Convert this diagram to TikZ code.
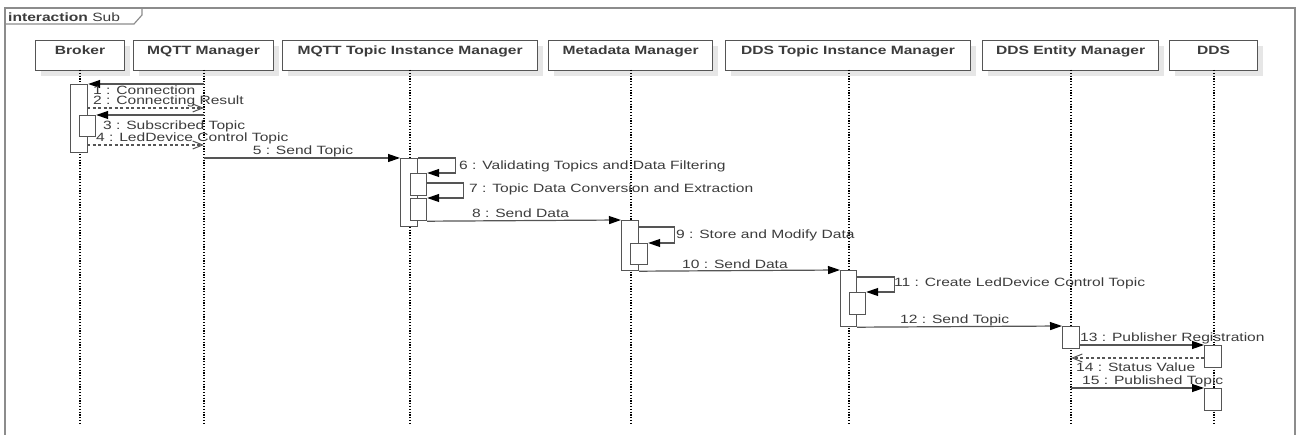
\documentclass[tikz,border=0pt]{standalone}
\usepackage{fontspec}
\setmainfont{Liberation Sans}[FakeStretch=1.3]
\usetikzlibrary{arrows.meta,shadows}
\definecolor{framegray}{HTML}{8C8C8C}
\definecolor{linegray}{HTML}{555555}
\definecolor{textgray}{HTML}{3C3C3C}
\definecolor{shadowgray}{HTML}{E6E6E6}

\begin{document}
\begin{tikzpicture}[x=1pt,y=-1pt,
  participant/.style={draw=linegray, line width=1.1pt, fill=white, anchor=north west,
    inner sep=0pt, text height=14pt, text depth=16pt, text=textgray,
    font=\bfseries\fontsize{12}{14}\selectfont,
    drop shadow={shadow xshift=5pt, shadow yshift=-5pt, fill=shadowgray, opacity=1}},
  lifeline/.style={line width=1.1pt, black, dash pattern=on 1.2pt off 1.6pt},
  actbar/.style={draw=linegray, line width=1.2pt, fill=white, anchor=north west,
    inner sep=0pt, minimum width=17pt},
  msg/.style={draw=linegray, line width=1.2pt, -{Triangle[length=12pt,width=8pt,color=black]}},
  reply/.style={draw=linegray, line width=1.1pt, dash pattern=on 3pt off 2.5pt,
    -{Straight Barb[length=10pt,width=8pt,line width=1pt]}},
  selfmsg/.style={draw=linegray, line width=1.2pt, -{Triangle[length=12pt,width=8pt,color=black]}},
  lbl/.style={anchor=west, inner sep=0pt, text=textgray, font=\fontsize{12}{14}\selectfont},
  clbl/.style={inner sep=0pt, text=textgray, font=\fontsize{12}{14}\selectfont}]

\useasboundingbox (0,0) rectangle (1298,435);
\begin{scope}
\clip (0,0) rectangle (1298,435);

% outer interaction frame and its name tab
\draw[framegray, line width=1.6pt] (5,460) -- (5,8) -- (1295,8) -- (1295,460);
\draw[framegray, line width=1.2pt] (5,24) -- (134,24) -- (142,15) -- (142,8);
\node[anchor=west, inner sep=0pt, text=textgray, font=\fontsize{12}{14}\selectfont]
  (title) at (8,17) {\textbf{interaction} Sub};

% participants
\node[participant, minimum width=89pt,  minimum height=30pt] (broker) at (35,40)  {Broker};
\node[participant, minimum width=140pt, minimum height=30pt] (mqtt)   at (133,40) {MQTT Manager};
\node[participant, minimum width=255pt, minimum height=30pt] (mtim)   at (282,40) {MQTT Topic Instance Manager};
\node[participant, minimum width=164pt, minimum height=30pt] (meta)   at (548,40) {Metadata Manager};
\node[participant, minimum width=245pt, minimum height=30pt] (dtim)   at (725,40) {DDS Topic Instance Manager};
\node[participant, minimum width=176pt, minimum height=30pt] (dent)   at (982,40) {DDS Entity Manager};
\node[participant, minimum width=88pt,  minimum height=30pt] (dds)    at (1169,40) {DDS};

% lifeline ends
\coordinate (brokerE) at (80,423);
\coordinate (mqttE)   at (204,423);
\coordinate (mtimE)   at (410,423);
\coordinate (metaE)   at (631,423);
\coordinate (dtimE)   at (849,423);
\coordinate (dentE)   at (1071,423);
\coordinate (ddsE)    at (1214,423);

\draw[lifeline] (80,70)   -- (brokerE);
\draw[lifeline] (204,70)  -- (mqttE);
\draw[lifeline] (410,70)  -- (mtimE);
\draw[lifeline] (631,70)  -- (metaE);
\draw[lifeline] (849,70)  -- (dtimE);
\draw[lifeline] (1071,70) -- (dentE);
\draw[lifeline] (1214,70) -- (ddsE);

% activation bars
\node[actbar, minimum height=68pt] (a1)  at (70,84)   {};
\node[actbar, minimum width=16pt, minimum height=21pt] (a3) at (79,115) {};
\node[actbar, minimum height=68pt] (b1)  at (400,158) {};
\node[actbar, minimum width=16pt, minimum height=22pt] (b6) at (410,173) {};
\node[actbar, minimum width=16pt, minimum height=22pt] (b7) at (410,198) {};
\node[actbar, minimum height=50pt] (c1)  at (621,220) {};
\node[actbar, minimum height=21pt] (c9)  at (630,243) {};
\node[actbar, minimum width=16pt, minimum height=56pt] (d1) at (840,270) {};
\node[actbar, minimum width=16pt, minimum height=22pt] (d11) at (849,292) {};
\node[actbar, minimum height=22pt] (e1)  at (1062,326) {};
\node[actbar, minimum height=22pt] (f13) at (1204,345) {};
\node[actbar, minimum height=22pt] (f15) at (1204,388) {};

% message end points on lifelines
\coordinate (m1s)  at (204,84);
\coordinate (m2s)  at (87,108);
\coordinate (m2e)  at (204,108);
\coordinate (m3s)  at (204,115);
\coordinate (m4s)  at (87,145);
\coordinate (m4e)  at (204,145);
\coordinate (m5s)  at (204,158);
\coordinate (m14e) at (1071,358);
\coordinate (m15s) at (1071,388);

% messages
\draw[msg] (m1s) -- (a1.north east);
\node[lbl] (l1) at (93,90.5) {1 : Connection};
\draw[reply] (m2s) -- (m2e);
\node[lbl] (l2) at (93,101.5) {2 : Connecting Result};
\draw[msg] (m3s) -- (a3.north east);
\node[lbl] (l3) at (103,126) {3 : Subscribed Topic};
\draw[reply] (m4s) -- (m4e);
\node[lbl] (l4) at (96,138) {4 : LedDevice Control Topic};
\draw[msg] (m5s) -- (b1.north west);
\node[clbl] (l5) at (303,151) {5 : Send Topic};

\draw[selfmsg] (b1.north east) -- ++(37,0) |- (b6.north east);
\node[lbl] (l6) at (459,166) {6 : Validating Topics and Data Filtering};
\draw[selfmsg] ([yshift=-10pt]b6.north east) -- ++(36,0) |- (b7.north east);
\node[lbl] (l7) at (469,189) {7 : Topic Data Conversion and Extraction};

\draw[msg] (b7.south east) -- (c1.north west);
\node[lbl] (l8) at (472,213) {8 : Send Data};
\draw[selfmsg] ([yshift=-7pt]c1.north east) -- ++(35,0) |- (c9.north east);
\node[lbl] (l9) at (676,235) {9 : Store and Modify Data};
\draw[msg] (c1.south east) -- (d1.north west);
\node[lbl] (l10) at (682,264) {10 : Send Data};

\draw[selfmsg] ([yshift=-7pt]d1.north east) -- ++(37,0) |- (d11.north east);
\node[lbl] (l11) at (894,283) {11 : Create LedDevice Control Topic};
\draw[msg] (d1.south east) -- (e1.north west);
\node[lbl] (l12) at (900,320) {12 : Send Topic};

\draw[msg] ([yshift=-19pt]e1.north east) -- (f13.north west);
\node[lbl] (l13) at (1080,338) {13 : Publisher Registration};
\draw[reply] ([yshift=-13pt]f13.north west) -- (m14e);
\node[lbl] (l14) at (1076,367) {14 : Status Value};
\draw[msg] (m15s) -- (f15.north west);
\node[lbl] (l15) at (1082,381) {15 : Published Topic};
\end{scope}
\end{tikzpicture}
\end{document}
